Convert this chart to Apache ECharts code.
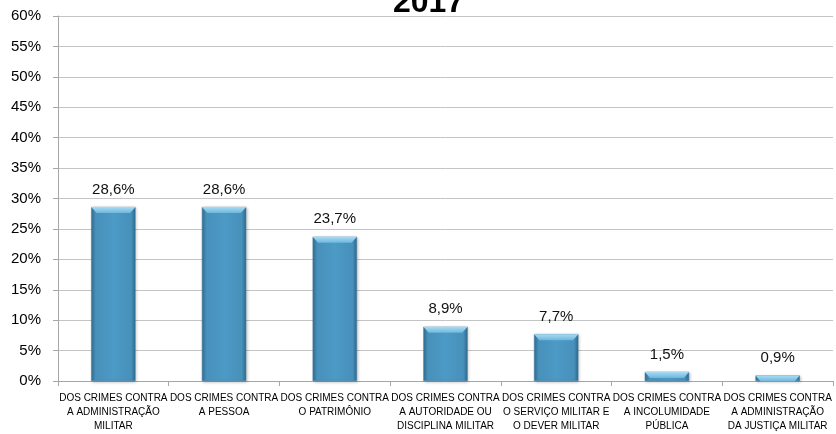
<!DOCTYPE html>
<html>
<head>
<meta charset="utf-8">
<script src="https://cdn.jsdelivr.net/npm/echarts@6/dist/echarts.min.js"></script>
<style>
  html, body { margin: 0; padding: 0; background: #fff; }
  #chart { width: 836px; height: 434px; }
</style>
</head>
<body>
<div id="chart"></div>
<script>
// Crime categories (2017) and their share of the total, in percent
const categories = [
  'DOS CRIMES CONTRA\nA ADMINISTRAÇÃO\nMILITAR',
  'DOS CRIMES CONTRA\nA PESSOA',
  'DOS CRIMES CONTRA\nO PATRIMÔNIO',
  'DOS CRIMES CONTRA\nA AUTORIDADE OU\nDISCIPLINA MILITAR',
  'DOS CRIMES CONTRA\nO SERVIÇO MILITAR E\nO DEVER MILITAR',
  'DOS CRIMES CONTRA\nA INCOLUMIDADE\nPÚBLICA',
  'DOS CRIMES CONTRA\nA ADMINISTRAÇÃO\nDA JUSTIÇA MILITAR'
];
const shares = [28.6, 28.6, 23.7, 8.9, 7.7, 1.5, 0.9];
const titleText = '2017';

const chart = echarts.init(document.getElementById('chart'), null, { renderer: 'canvas' });

const fmtPct = v => v.toFixed(1).replace('.', ',') + '%';

chart.setOption({
  animation: false,
  backgroundColor: '#ffffff',
  title: {
    text: titleText,
    left: 388,
    top: -18,
    textStyle: { fontFamily: 'Liberation Sans', fontWeight: 'bold', fontSize: 32, color: '#000' }
  },
  grid: { left: 58, right: 3, top: 16, bottom: 53, containLabel: false },
  xAxis: {
    type: 'category',
    data: categories,
    boundaryGap: true,
    axisLine: { lineStyle: { color: '#a6a6a6', width: 1 } },
    axisTick: { show: true, length: 5, lineStyle: { color: '#a6a6a6' } },
    axisLabel: {
      interval: 0,
      margin: 10,
      fontFamily: 'Liberation Sans, sans-serif',
      fontSize: 10,
      lineHeight: 14,
      color: '#000'
    }
  },
  yAxis: {
    type: 'value',
    min: 0,
    max: 60,
    interval: 5,
    axisLine: { show: true, lineStyle: { color: '#a6a6a6' } },
    axisTick: { show: true, length: 5, lineStyle: { color: '#a6a6a6' } },
    splitLine: { lineStyle: { color: '#c4c4c4', width: 1 } },
    axisLabel: {
      margin: 17,
      formatter: v => v + '%',
      fontFamily: 'Liberation Sans, sans-serif',
      fontSize: 15,
      color: '#000'
    }
  },
  series: [
    {
      type: 'bar',
      data: shares,
      barWidth: '40%',
      itemStyle: {
        color: new echarts.graphic.LinearGradient(0, 0, 1, 0, [
          { offset: 0, color: '#336f94' },
          { offset: 0.1, color: '#4791bb' },
          { offset: 0.5, color: '#4c9ac6' },
          { offset: 0.9, color: '#4791bb' },
          { offset: 1, color: '#2f6a8e' }
        ]),
        borderColor: '#3a7aa0',
        borderWidth: 0.5,
        shadowColor: 'rgba(0,0,0,0.25)',
        shadowBlur: 3,
        shadowOffsetX: 1,
        shadowOffsetY: 1
      },
      label: {
        show: true,
        position: 'top',
        distance: 10,
        formatter: p => fmtPct(p.value),
        fontFamily: 'Liberation Sans, sans-serif',
        fontSize: 15,
        color: '#111'
      },
      z: 2
    },
    {
      // light bevel cap on top of each bar
      type: 'pictorialBar',
      data: shares,
      barWidth: '40%',
      barGap: '-100%',
      symbol: 'path://M0,0 L100,0 L88,10 L12,10 Z',
      symbolKeepAspect: false,
      symbolSize: ['100%', 6],
      symbolPosition: 'end',
      symbolOffset: [0, 0],
      itemStyle: {
        color: new echarts.graphic.LinearGradient(0, 0, 0, 1, [
          { offset: 0, color: '#a8dcf3' },
          { offset: 1, color: '#6fb6dc' }
        ])
      },
      silent: true,
      z: 3
    }
  ]
});
</script>
</body>
</html>
